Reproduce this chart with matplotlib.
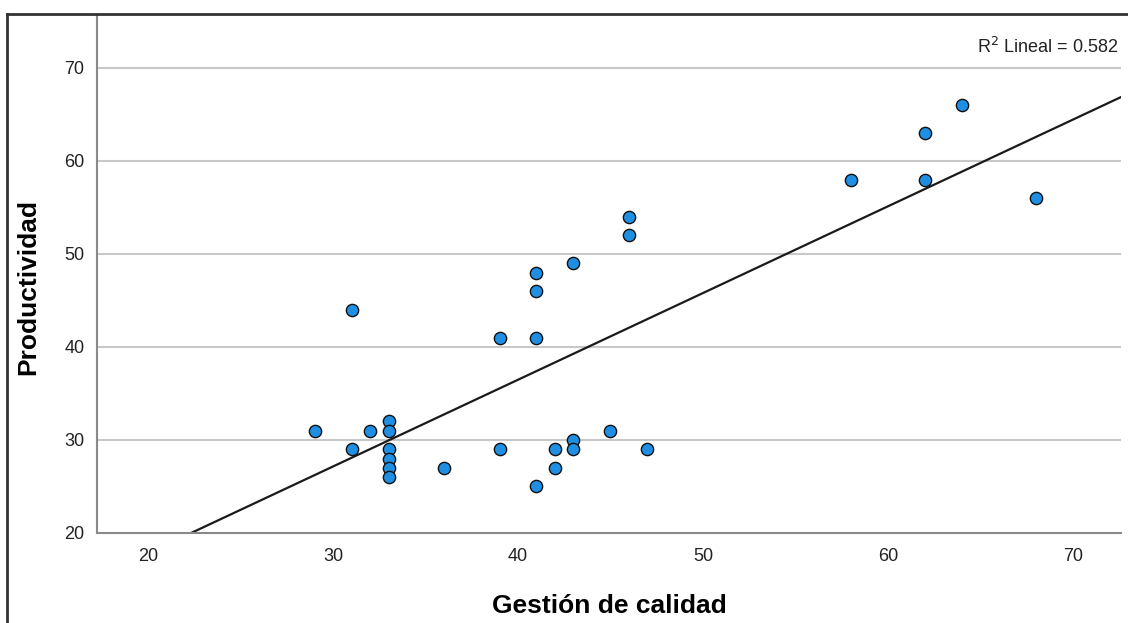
import matplotlib.pyplot as plt
import numpy as np

plt.rcParams['font.family'] = ['Liberation Sans', 'DejaVu Sans']

# Data: Gestión de calidad (x) vs Productividad (y)
gestion = [29, 31, 31, 32, 33, 33, 33, 33, 33, 33, 36, 39, 39, 41, 41, 41, 41,
           42, 42, 43, 43, 43, 45, 46, 46, 47, 58, 62, 62, 64, 68]
productividad = [31, 44, 29, 31, 32, 31, 29, 28, 27, 26, 27, 41, 29, 48, 46, 41, 25,
                 29, 27, 49, 30, 29, 31, 54, 52, 29, 58, 63, 58, 66, 56]
r2_text = 'R$^2$ Lineal = 0.582'
x_ticks = [20, 30, 40, 50, 60, 70]
y_ticks = [20, 30, 40, 50, 60, 70]

fig = plt.figure(figsize=(11.28, 6.23), dpi=100)
ax = fig.add_axes([0.086, 0.1445, 0.9078, 0.8315])

x = np.array(gestion, dtype=float)
y = np.array(productividad, dtype=float)

# horizontal grid lines
for t in y_ticks[1:]:
    ax.axhline(t, color='#c8c8c8', lw=1.5, zorder=0)

# fit line
slope, intercept = np.polyfit(x, y, 1)
xl = np.array([17.24, 72.6])
ax.plot(xl, slope * xl + intercept, color='#1a1a1a', lw=1.6, zorder=2)

ax.scatter(x, y, s=78, color='#1e8fe3', edgecolor='#111111', linewidth=1.0, zorder=3)

ax.set_xlim(17.24, 72.6)
ax.set_ylim(20, 75.7)
ax.set_xticks(x_ticks)
ax.set_yticks(y_ticks)
ax.tick_params(length=0, labelsize=13, colors='#222222')
ax.tick_params(axis='x', pad=11)
ax.tick_params(axis='y', pad=9)

for s in ['top', 'right']:
    ax.spines[s].set_visible(False)
for s in ['left', 'bottom']:
    ax.spines[s].set_color('#8a8a8a')
    ax.spines[s].set_linewidth(1.5)

ax.text(0.997, 0.938, r2_text, transform=ax.transAxes, ha='right', va='center',
        fontsize=13, color='#222222')

fig.text(0.54, 0.028, 'Gestión de calidad', ha='center', va='center', fontsize=19,
         fontweight='bold')
fig.text(0.025, 0.54, 'Productividad', ha='center', va='center', rotation=90, fontsize=19,
         fontweight='bold')

# outer frame (top and left)
fig.add_artist(plt.Line2D([7 / 1128, 1], [1 - 14 / 623, 1 - 14 / 623], color='#333333', lw=2,
                          transform=fig.transFigure))
fig.add_artist(plt.Line2D([7 / 1128, 7 / 1128], [0, 1 - 14 / 623], color='#333333', lw=2,
                          transform=fig.transFigure))

fig.savefig('out.png', dpi=100)
